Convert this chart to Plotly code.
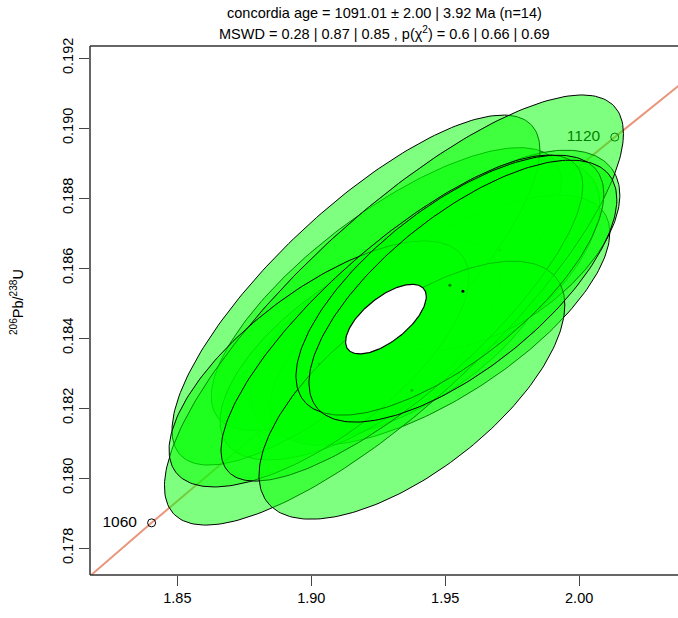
import numpy as np
import plotly.graph_objects as go

# ---- data ----
# concordia curve points (age in Ma, 207Pb/235U, 206Pb/238U)
conc_age = [1030, 1040, 1060, 1080, 1100, 1120, 1140, 1150]
conc_x = [1.7577, 1.7850, 1.8404, 1.8969, 1.9545, 2.0133, 2.0732, 2.1036]
conc_y = [0.17326, 0.17507, 0.17872, 0.18238, 0.18606, 0.18974, 0.19344, 0.19529]

# labelled age ticks on concordia
tick_age = ["1060", "1120"]
tick_x = [1.8404, 2.0133]
tick_y = [0.17872, 0.18974]

# aliquot error ellipses (drawing order)
ell_x = [1.94429, 1.93310, 1.95922, 1.92800, 1.94802, 1.91817, 1.97041,
         1.91668, 1.93086, 1.90287, 1.93384, 1.93757, 1.95175, 1.95660]
ell_sx = [0.021342, 0.022866, 0.019817, 0.026700, 0.025915, 0.021342, 0.018293,
          0.028049, 0.035000, 0.022866, 0.027592, 0.023323, 0.023476, 0.023476]
ell_y = [0.18509, 0.18423, 0.18594, 0.18540, 0.18451, 0.18366, 0.18651,
         0.18537, 0.18480, 0.18326, 0.18457, 0.18251, 0.18551, 0.18534]
ell_sy = [0.0013423, 0.0012839, 0.0012839, 0.0016500, 0.0014590, 0.0012839, 0.0011672,
          0.0020426, 0.0025100, 0.0014357, 0.0019025, 0.0015057, 0.0015174, 0.0015290]
ell_rho = [0.65, 0.60, 0.60, 0.76, 0.70, 0.65, 0.55,
           0.80, 0.82, 0.70, 0.81, 0.66, 0.70, 0.70]

# concordia age ellipse
age_x, age_sx, age_y, age_sy, age_rho = 1.92787, 0.0061586, 0.18454, 0.00040619, 0.65

x_ticks = [1.85, 1.90, 1.95, 2.00]
y_ticks = [0.178, 0.180, 0.182, 0.184, 0.186, 0.188, 0.190, 0.192]

title1 = "concordia age = 1091.01 ± 2.00 | 3.92 Ma (n=14)"
title2 = "MSWD = 0.28 | 0.87 | 0.85 , p(χ<sup>2</sup>) = 0.6 | 0.66 | 0.69"
ytitle = "<sup>206</sup>Pb/<sup>238</sup>U"

K95 = 2.4477
FONT = "Liberation Sans, Arial, Helvetica, sans-serif"


def ellipse(x, sx, y, sy, rho, n=240):
    t = np.linspace(0, 2 * np.pi, n)
    ex = x + K95 * sx * np.cos(t)
    ey = y + K95 * sy * (rho * np.cos(t) + np.sqrt(1 - rho ** 2) * np.sin(t))
    return ex, ey


fig = go.Figure()

# concordia line
fig.add_trace(go.Scatter(x=conc_x, y=conc_y, mode="lines",
                         line=dict(color="#E9967A", width=2), hoverinfo="skip"))
# age markers and labels (drawn beneath the ellipses)
fig.add_trace(go.Scatter(x=tick_x, y=tick_y, mode="markers+text",
                         text=[a + "\u00a0\u00a0" for a in tick_age],
                         textposition="middle left",
                         textfont=dict(family=FONT, size=15.5, color="black"),
                         marker=dict(symbol="circle-open", size=8, color="black",
                                     line=dict(width=1)),
                         hoverinfo="skip"))

for i in range(len(ell_x)):
    ex, ey = ellipse(ell_x[i], ell_sx[i], ell_y[i], ell_sy[i], ell_rho[i])
    fig.add_trace(go.Scatter(x=ex, y=ey, mode="lines", fill="toself",
                             fillcolor="rgba(0,255,0,0.5)",
                             line=dict(color="black", width=1), hoverinfo="skip"))
    fig.add_trace(go.Scatter(x=[ell_x[i]], y=[ell_y[i]], mode="markers",
                             marker=dict(size=3, color="black"), hoverinfo="skip"))

ex, ey = ellipse(age_x, age_sx, age_y, age_sy, age_rho)
fig.add_trace(go.Scatter(x=ex, y=ey, mode="lines", fill="toself", fillcolor="white",
                         line=dict(color="black", width=1.2), hoverinfo="skip"))

axis_common = dict(showgrid=False, zeroline=False, showline=False,
                   ticks="outside", ticklen=10, tickcolor="#444",
                   tickwidth=1, tickfont=dict(family=FONT, size=14.5, color="black"))

fig.update_xaxes(range=[1.8174, 2.0369], tickvals=x_ticks,
                 ticktext=[f"{v:.2f}" for v in x_ticks], **axis_common)
fig.update_yaxes(range=[0.17723, 0.192343], tickvals=y_ticks,
                 ticktext=[f"{v:.3f}" for v in y_ticks], tickangle=-90,
                 **axis_common)

# plot box: left, bottom and top sides (right side lies outside the window)
box = dict(type="line", xref="paper", yref="paper", layer="above",
           line=dict(color="#333", width=1.5))
fig.add_shape(x0=0, x1=0, y0=0, y1=1, **box)
fig.add_shape(x0=0, x1=1, y0=0, y1=0, **box)
fig.add_shape(x0=0, x1=1, y0=1, y1=1, **box)

fig.add_annotation(text=title1, xref="paper", yref="paper", x=0.5, y=1.0624,
                   xanchor="center", yanchor="middle", showarrow=False,
                   font=dict(family=FONT, size=14.5, color="black"))
fig.add_annotation(text=title2, xref="paper", yref="paper", x=0.5, y=1.0246,
                   xanchor="center", yanchor="middle", showarrow=False,
                   font=dict(family=FONT, size=14.5, color="black"))
fig.add_annotation(text=ytitle, xref="paper", yref="paper", x=-0.1241, y=0.516,
                   xanchor="center", yanchor="middle", textangle=-90, showarrow=False,
                   font=dict(family=FONT, size=14.5, color="black"))

fig.update_layout(width=678, height=618, showlegend=False,
                  margin=dict(l=90, r=0, t=46, b=43),
                  plot_bgcolor="white", paper_bgcolor="white")

fig.write_html("out.html")
